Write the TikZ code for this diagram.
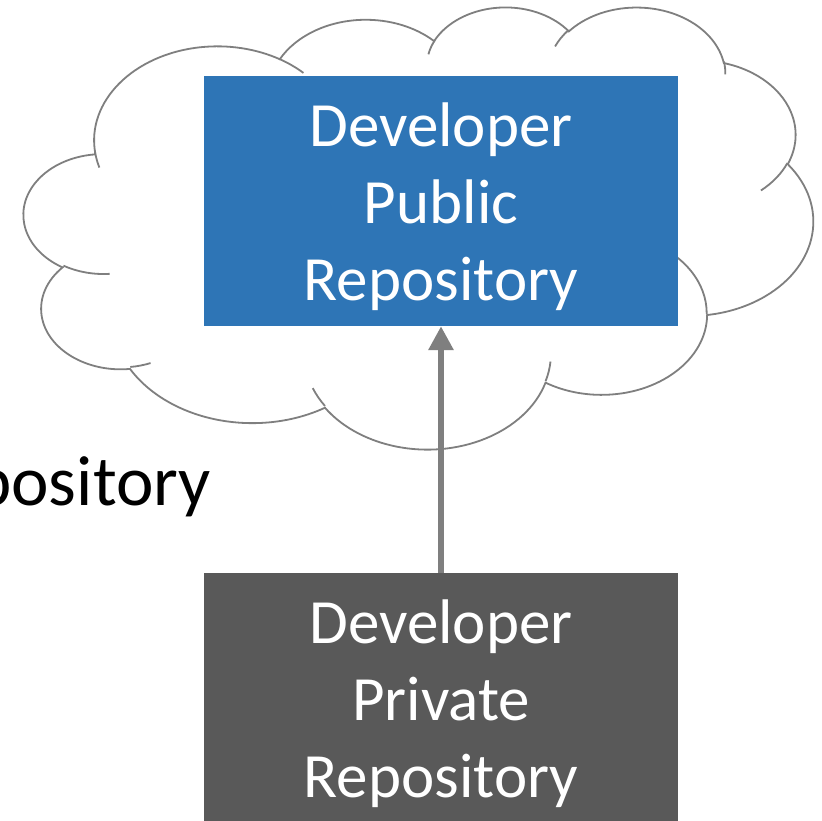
\documentclass[tikz,border=0pt]{standalone}
\usepackage{fontspec}
\setmainfont{Carlito}
\usetikzlibrary{arrows.meta}
\definecolor{pubblue}{HTML}{2E75B6}
\definecolor{privgray}{HTML}{595959}
\definecolor{linegray}{HTML}{7F7F7F}
\newcommand\SX{1.82639}
\newcommand\SY{1.02315}
% DrawingML-style arcTo: #1 wR, #2 hR (path units/100), #3 start angle, #4 sweep (degrees)
\newcommand\carc[4]{arc[start angle={-atan2(sin(#3)*#1,cos(#3)*#2)}, delta angle={-mod(atan2(sin(#3+#4)*#1,cos(#3+#4)*#2)-atan2(sin(#3)*#1,cos(#3)*#2)+720,360)}, x radius={#1*\SX}, y radius={#2*\SY}]}
\begin{document}
\begin{tikzpicture}[x=1pt,y=1pt,
  cloudline/.style={draw=linegray, line width=1.8pt},
  pubbox/.style={fill=pubblue, minimum width=474pt, minimum height=250pt, inner sep=0pt},
  privbox/.style={fill=privgray, minimum width=474pt, minimum height=250pt, inner sep=0pt},
  boxtext/.style={text=white, align=center, inner sep=0pt, font=\fontsize{63}{77}\selectfont},
  conn/.style={draw=linegray, line width=6.5pt, -{Triangle[length=24pt,width=24pt]}}]
\useasboundingbox (0,0) rectangle (822,-820);
\clip (0,0) rectangle (822,-820);
% cloud outline
\coordinate (c0) at ({24+39.00*\SX},{-(6+143.70*\SY)});
\draw[cloudline, fill=white] (c0)
  \carc{67.53}{91.90}{-190.4875}{123.7805}
  \carc{53.33}{72.67}{-144.1024}{89.9452}
  \carc{43.65}{59.45}{-145.8079}{99.7230}
  \carc{48.57}{65.95}{-130.9861}{117.2417}
  \carc{53.33}{72.73}{-78.7089}{109.0269}
  \carc{67.75}{92.20}{-46.2673}{130.2690}
  \carc{57.85}{78.67}{0.6250}{114.0333}
  \carc{67.52}{92.15}{22.4516}{115.1726}
  \carc{77.20}{105.43}{66.2426}{75.7110}
  \carc{43.60}{59.18}{-274.9421}{146.7356}
  \carc{43.45}{59.45}{-246.8285}{152.5189}
  -- cycle;
% inner cloud strokes
\coordinate (ia) at ({24+46.93*\SX},{-(6+261.77*\SY)});
\coordinate (ib) at ({24+69.28*\SX},{-(6+348.99*\SY)});
\coordinate (ic) at ({24+164.78*\SX},{-(6+390.90*\SY)});
\coordinate (id) at ({24+288.27*\SX},{-(6+347.51*\SY)});
\coordinate (ie) at ({24+341.29*\SX},{-(6+229.54*\SY)});
\coordinate (if) at ({24+417.98*\SX},{-(6+153.54*\SY)});
\coordinate (ig) at ({24+383.24*\SX},{-(6+54.26*\SY)});
\coordinate (ih) at ({24+290.78*\SX},{-(6+39.52*\SY)});
\coordinate (ii) at ({24+221.41*\SX},{-(6+47.20*\SY)});
\coordinate (ij) at ({24+140.00*\SX},{-(6+51.92*\SY)});
\coordinate (ik) at ({24+41.27*\SX},{-(6+157.89*\SY)});
\draw[cloudline] (ia) \carc{43.45}{59.45}{86.7420}{26.4295};
\draw[cloudline] (ib) \carc{43.60}{59.18}{73.6105}{11.4475};
\draw[cloudline] (ic) \carc{67.52}{92.15}{137.6242}{14.0811};
\draw[cloudline] (id) \carc{67.52}{92.15}{6.4533}{15.9984};
\draw[cloudline] (ie) \carc{57.85}{78.67}{-70.2924}{70.9174};
\draw[cloudline] (if) \carc{53.33}{72.73}{30.3180}{27.7515};
\draw[cloudline] (ig) \carc{48.57}{65.95}{-13.7443}{14.8589};
\draw[cloudline] (ih) \carc{48.57}{65.95}{-149.1815}{18.1954};
\draw[cloudline] (ii) \carc{43.65}{59.45}{-163.4943}{17.6864};
\draw[cloudline] (ij) \carc{67.53}{91.90}{-66.7070}{12.3194};
\draw[cloudline] (ik) \carc{67.53}{91.90}{157.6544}{11.8582};
% boxes
\node[pubbox] (pub) at (441,-201) {};
\node[privbox] (priv) at (441,-698) {};
\node[boxtext, anchor=base] (pubtxt) at (441,-300) {Developer\\Public\\Repository};
\node[boxtext, anchor=base] (privtxt) at (441,-797) {Developer\\Private\\Repository};
\node[anchor=base east, inner sep=0pt, font=\fontsize{71}{86}\selectfont] (repo) at (211,-505) {Repository};
% connector
\draw[conn] (priv) -- (pub);
\end{tikzpicture}
\end{document}
